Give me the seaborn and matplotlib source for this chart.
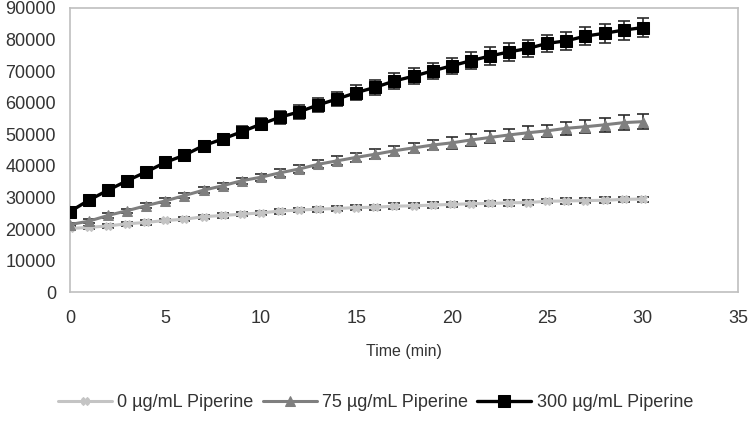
import matplotlib
matplotlib.use("Agg")
import matplotlib.pyplot as plt
import seaborn as sns
import pandas as pd

# time points (min)
time_min = list(range(0, 31))

# fluorescence means
pip_0 = [20200, 20500, 21000, 21650, 22100, 22700, 23100, 23900, 24300, 24700,
         25100, 25700, 26000, 26300, 26500, 26800, 26900, 27250, 27350, 27600,
         27800, 28000, 28100, 28300, 28400, 28800, 28900, 29000, 29100, 29400, 29500]
pip_75 = [21400, 22500, 24300, 25800, 27400, 28900, 30600, 32300, 33700, 35300,
          36400, 37800, 39000, 40500, 41600, 42700, 43700, 44800, 45700, 46600,
          47300, 48200, 49000, 49800, 50500, 51100, 51900, 52400, 53000, 53700, 54000]
pip_300 = [25500, 29150, 32300, 35300, 38100, 41100, 43400, 46400, 48500, 50800,
           53200, 55400, 57100, 59300, 61200, 63200, 64900, 66900, 68400, 70100,
           71700, 73300, 74800, 76100, 77200, 78800, 79600, 81100, 82000, 83000, 83800]

# error bars (SD)
sd_0 = [600, 600, 700, 600, 700, 600, 700, 600, 700, 700, 700, 800, 700, 800, 800,
        800, 800, 900, 800, 900, 800, 800, 800, 900, 900, 700, 900, 800, 900, 700, 800]
sd_75 = [500, 600, 700, 700, 800, 800, 900, 900, 1000, 1000, 1100, 1200, 1300, 1300,
         1400, 1500, 1500, 1600, 1600, 1700, 1800, 1800, 1900, 1900, 2000, 2000, 2100,
         2100, 2200, 2300, 2400]
sd_300 = [800, 900, 1000, 1100, 1200, 1300, 1400, 1500, 1600, 1700, 1900, 2000, 2100,
          2200, 2300, 2400, 2400, 2500, 2500, 2600, 2600, 2700, 2700, 2800, 2800, 2800,
          2900, 2900, 3000, 3000, 3000]

labels = ["0 µg/mL Piperine", "75 µg/mL Piperine", "300 µg/mL Piperine"]

frames = []
for lab, vals, sds in zip(labels, [pip_0, pip_75, pip_300], [sd_0, sd_75, sd_300]):
    frames.append(pd.DataFrame({"Time": time_min, "Value": vals, "SD": sds, "Group": lab}))
df = pd.concat(frames, ignore_index=True)

sns.set_style("white")
plt.rcParams["font.family"] = ["Liberation Sans", "DejaVu Sans"]

colors = {labels[0]: "#c4c4c4", labels[1]: "#7f7f7f", labels[2]: "#000000"}
markers = {labels[0]: "X", labels[1]: "^", labels[2]: "s"}
sizes = {labels[0]: 6, labels[1]: 7, labels[2]: 8}
widths = {labels[0]: 2.2, labels[1]: 2.2, labels[2]: 2.4}

fig = plt.figure(figsize=(7.51, 4.21), dpi=100)
ax = fig.add_axes([0.093, 0.306, 0.890, 0.675])

for lab in labels:
    sub = df[df["Group"] == lab]
    ax.errorbar(sub["Time"], sub["Value"], yerr=sub["SD"], fmt="none",
                ecolor="#2b2b2b", elinewidth=1.2, capsize=4, capthick=1.2, zorder=3)
    sns.lineplot(data=sub, x="Time", y="Value", ax=ax, color=colors[lab],
                 marker=markers[lab], markersize=sizes[lab], markeredgecolor=colors[lab],
                 linewidth=widths[lab], label=lab, zorder=4)

ax.set_xlim(0, 35)
ax.set_ylim(0, 90000)
ax.set_xticks(range(0, 36, 5))
ax.set_yticks(range(0, 90001, 10000))
for s in ax.spines.values():
    s.set_color("#bfbfbf")
    s.set_linewidth(1.2)
ax.tick_params(axis="both", direction="out", length=6, width=1, color="#bfbfbf",
               labelsize=13, labelcolor="#333333", pad=4)
ax.tick_params(axis="x", pad=7)
ax.set_xlabel("Time (min)", fontsize=11.5, color="#333333", labelpad=12)
ax.set_ylabel("")

handles, labs = ax.get_legend_handles_labels()
ax.get_legend().remove()
fig.legend(handles, labs, loc="lower center", bbox_to_anchor=(0.5, -0.015), ncol=3,
           frameon=False, fontsize=13, handlelength=3.0, columnspacing=0.5,
           handletextpad=0.3, labelcolor="#333333")

fig.savefig("out.png", dpi=100)
